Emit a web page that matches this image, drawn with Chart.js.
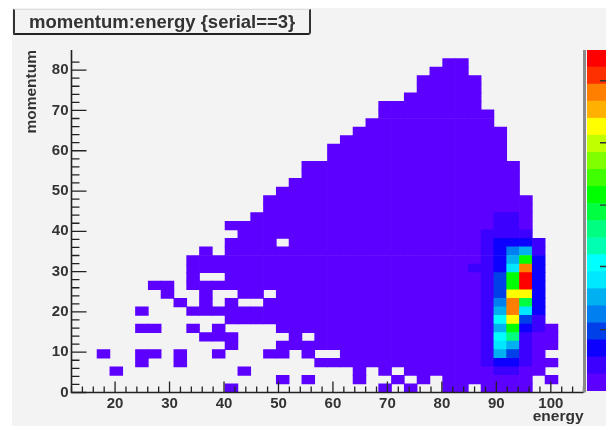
<!DOCTYPE html>
<html>
<head>
<meta charset="utf-8">
<script src="https://cdn.jsdelivr.net/npm/chart.js@4/dist/chart.umd.min.js"></script>
<style>
  html,body{margin:0;padding:0;background:#fff;width:606px;height:426px;overflow:hidden}
  #panel{position:absolute;left:12px;top:8px;width:594px;height:418px;background:#f3f3f3}
  #title{position:absolute;left:13px;top:9px;width:280px;height:23px;padding-left:14px;
    border-left:2px solid #333;border-bottom:2px solid #222;border-right:2px solid #333;border-top:1px solid #ddd;
    border-bottom-right-radius:3px;font:bold 18.5px "Liberation Sans",Arial,sans-serif;line-height:23px;color:#333;
    white-space:nowrap;filter:blur(.5px)}
  #hist{position:absolute;left:0;top:0;filter:blur(.6px)}
  #palette{position:absolute;left:587px;top:50px;filter:blur(.5px)}
</style>
</head>
<body>
<div id="panel"></div>
<div id="title">momentum:energy {serial==3}</div>
<canvas id="hist" width="606" height="426"></canvas>
<canvas id="palette" width="19" height="341"></canvas>
<script>
// ─── DATA ───────────────────────────────────────────────────────────
const X_MIN=12, X_MAX=106, Y_MIN=0, Y_MAX=85, N_BINS=40;
const xLabelled=[20,30,40,50,60,70,80,90,100];
const yLabelled=[0,10,20,30,40,50,60,70,80];
const paletteTicks=[3.6,7.3,10.9,14.56,18.2];
// bottom to top
const paletteColours=['#5c00ff','#3c00ff','#0c00ff','#0040e8','#0080f0','#00b0f0','#00e8ff','#00ffff','#00ffb0','#00ff80',
  '#00ff40','#00ff00','#40ff00','#80ff00','#c0ff00','#ffff00','#ffb000','#ff8000','#ff3000','#ff0000'];
// one string per row of bins, top row first, in groups of ten bins;
// char = colour level in base 20, '.' = empty bin
const levelRows=[
  '.......... .......... .........0 0.........', // row 38
  '.......... .......... ........00 0.........',
  '.......... .......... .......000 00........',
  '.......... .......... .......000 00........',
  '.......... .......... ......0000 00........',
  '.......... .......... ....000000 00........',
  '.......... .......... ....000000 000.......',
  '.......... .......... ...0000000 000.......',
  '.......... .......... ..00000000 0000......',
  '.......... .......... .000000000 0000......',
  '.......... .......... 0000000000 0000......', // row 28
  '.......... .......... 0000000000 0000......',
  '.......... ........00 0000000000 00000.....',
  '.......... ........00 0000000000 00000.....',
  '.......... .......000 0000000000 00000.....',
  '.......... ......0000 0000000000 00000.....',
  '.......... .....00000 0000000000 000000....',
  '.......... .....00000 0000000000 000000....',
  '.......... ....000000 0000000000 000110....',
  '.......... ..00000000 0000000000 000110....',
  '.......... ...0000000 0000000000 001111....', // row 18
  '.......... ..0000.000 0000000000 0012221...',
  '.......... 0.00000000 0000000000 0012451...',
  '.........0 0000000000 0000000000 00125b2...',
  '.........0 0000000000 0000000000 01126h2...',
  '.........0 ..00000000 0000000000 0013bj2...',
  '......00.0 0000000000 0000000000 0013bj2...',
  '.......0.. 0..00.0000 0000000000 0013ff2...',
  '........0. 0.0..00000 0000000000 0014ha2...',
  '.....0...0 0000000000 0000000000 0015h62...',
  '.......... ..00000000 0000000000 0017f31...', // row 8
  '.....00..0 .0....0000 0000000000 0015b210..',
  '.......... 000....0.0 0000000000 00179100..',
  '.......... ..0...0000 0000000000 00165100..',
  '..0..00.0. .0...00.0. .000000000 0015310...',
  '.....0..0. .........0 0000000000 00122100..',
  '...0...... ...0...... ..0.0.0000 0001100...',
  '.......... ......0.0. ..0..0.0.0 000000.0..',
  '.......... ..0....... ....0.0..0 0.0000....'  // row 0
];

const binW=(X_MAX-X_MIN)/N_BINS, binH=(Y_MAX-Y_MIN)/N_BINS;
const cells=[], cellColours=[];
levelRows.forEach((row,r)=>{
  const j=levelRows.length-1-r;
  [...row.replace(/ /g,'')].forEach((ch,i)=>{
    if(ch==='.') return;
    cells.push({x:X_MIN+(i+.5)*binW,y:[Y_MIN+j*binH,Y_MIN+(j+1)*binH]});
    cellColours.push(paletteColours[parseInt(ch,20)]);
  });
});

// ROOT style ticks, pointing into the plot
const innerTicks={
  id:'innerTicks',
  afterDatasetsDraw(chart){
    const {ctx,chartArea:a,scales:{x,y}}=chart;
    ctx.save();
    ctx.strokeStyle='#222';
    ctx.lineWidth=1.3;
    ctx.beginPath();
    x.ticks.forEach(t=>{
      if(t.value%2) return;
      const p=x.getPixelForValue(t.value), len=t.value%10?6:11;
      ctx.moveTo(p,a.bottom);ctx.lineTo(p,a.bottom-len);
    });
    y.ticks.forEach(t=>{
      if(t.value%2) return;
      const p=y.getPixelForValue(t.value), len=t.value%10?8:15;
      ctx.moveTo(a.left,p);ctx.lineTo(a.left+len,p);
    });
    ctx.stroke();
    ctx.lineWidth=1.6;
    ctx.beginPath();
    ctx.moveTo(a.left,a.top);ctx.lineTo(a.left,a.bottom);ctx.lineTo(a.right,a.bottom);
    ctx.stroke();
    ctx.strokeStyle='#8a8a8a';
    ctx.lineWidth=3;
    ctx.beginPath();
    ctx.moveTo(a.right+1,a.top);ctx.lineTo(a.right+1,a.bottom);
    ctx.stroke();
    ctx.restore();
  }
};
const axisFont={family:'"Liberation Sans",Arial,sans-serif',size:15,weight:'bold'};

new Chart(document.getElementById('hist'),{
  type:'bar',
  data:{datasets:[{data:cells,backgroundColor:cellColours,barThickness:12.85,borderWidth:0}]},
  options:{
    responsive:false,animation:false,
    layout:{padding:{top:50,right:22.5,left:0,bottom:0}},
    plugins:{legend:{display:false},tooltip:{enabled:false}},
    scales:{
      x:{type:'linear',offset:false,min:X_MIN,max:X_MAX,
        grid:{display:false,offset:false,drawTicks:false},border:{display:false},
        ticks:{stepSize:2,autoSkip:false,maxRotation:0,padding:2,color:'#333',font:axisFont,
          callback:v=>xLabelled.includes(v)?String(v):''},
        title:{display:true,text:'energy',align:'end',color:'#333',padding:{top:-1,bottom:0},font:{...axisFont,size:15.5}},
        afterFit(s){s.height=33.5;}},
      y:{min:Y_MIN,max:Y_MAX,
        grid:{display:false,drawTicks:false},border:{display:false},
        ticks:{stepSize:2,autoSkip:false,padding:3,color:'#333',font:axisFont,
          callback:v=>yLabelled.includes(v)?String(v):''},
        title:{display:true,text:'momentum',align:'end',color:'#333',padding:{top:22,bottom:4},font:{...axisFont,size:15.5}},
        afterFit(s){s.width=71.5;}}
    }
  },
  plugins:[innerTicks]
});

// colour scale on the right
const paletteMarks={
  id:'paletteMarks',
  afterDatasetsDraw(chart){
    const {ctx,chartArea:a,scales:{y}}=chart;
    ctx.save();
    ctx.strokeStyle='#333';
    ctx.lineWidth=1.4;
    ctx.beginPath();
    paletteTicks.forEach(v=>{
      const p=y.getPixelForValue(v);
      ctx.moveTo(a.right,p);ctx.lineTo(a.right-6,p);
    });
    ctx.stroke();
    ctx.restore();
  }
};
new Chart(document.getElementById('palette'),{
  type:'bar',
  data:{labels:['z'],datasets:paletteColours.map(c=>({data:[1],backgroundColor:c,barPercentage:1,categoryPercentage:1}))},
  options:{
    responsive:false,animation:false,
    plugins:{legend:{display:false},tooltip:{enabled:false}},
    scales:{x:{display:false,stacked:true},y:{display:false,stacked:true,min:0,max:paletteColours.length}}
  },
  plugins:[paletteMarks]
});
</script>
</body>
</html>
